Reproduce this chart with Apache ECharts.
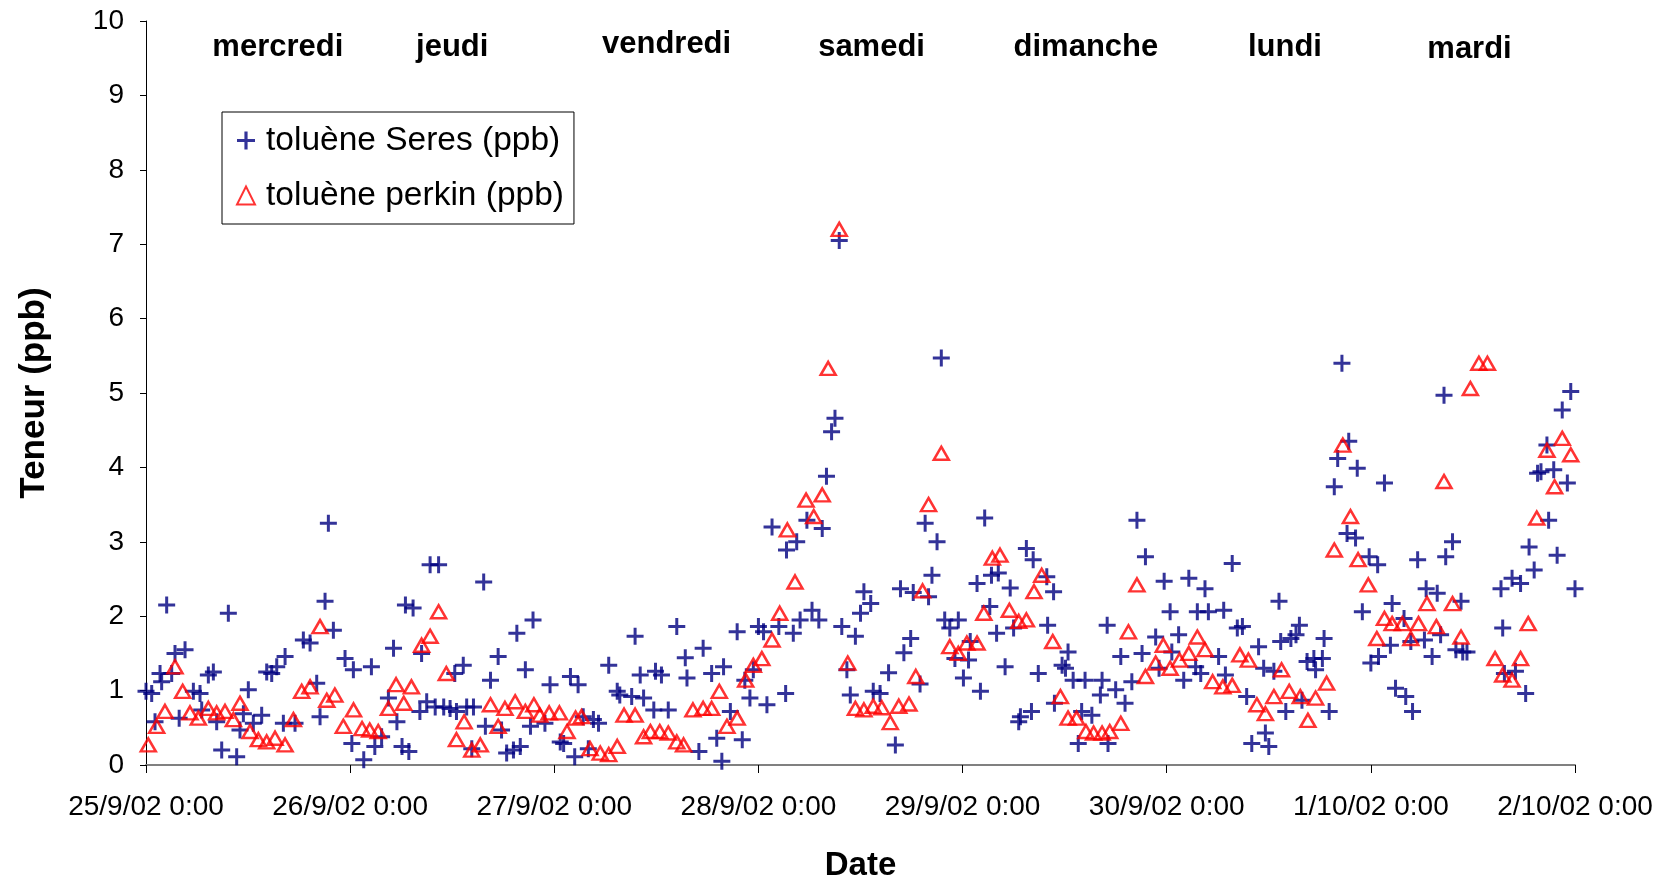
<!DOCTYPE html>
<html><head><meta charset="utf-8">
<script src="https://cdn.jsdelivr.net/npm/echarts@6/dist/echarts.min.js"></script>
<style>html,body{margin:0;padding:0;background:#fff}#c{width:1668px;height:882px}</style>
</head><body><div id="c"></div>
<script>
// x = hours since 25/9/02 0:00, y = ppb
var tickLabels = ['25/9/02 0:00','26/9/02 0:00','27/9/02 0:00','28/9/02 0:00','29/9/02 0:00','30/9/02 0:00','1/10/02 0:00','2/10/02 0:00'];
var dayNames = ['mercredi','jeudi','vendredi','samedi','dimanche','lundi','mardi'];
var seriesNames = ['toluène Seres (ppb)','toluène perkin (ppb)'];

var seres = [
[0.0,0.99],[0.67,0.96],[1.06,0.58],[1.65,1.23],[1.84,1.12],[2.43,2.15],[3.02,1.23],[3.41,1.50],[3.9,0.63],[4.59,1.55],[5.57,0.99],[6.35,0.96],[6.55,0.74],[7.33,1.21],[7.92,1.25],[8.31,0.58],[8.9,0.20],[9.68,2.04],[10.66,0.11],[11.05,0.47],[11.45,0.69],[12.03,1.01],[12.62,0.56],[13.6,0.67],[14.19,1.25],[14.78,1.23],[15.37,1.32],[16.15,0.56],[16.35,1.46],[17.52,0.56],[18.5,1.68],[19.29,1.64],[20.07,1.10],[20.46,0.65],[21.05,2.20],[21.44,3.25],
[22.03,1.81],[23.4,1.43],[24.2,0.29],[24.38,1.28],[25.6,0.07],[26.5,1.32],[26.9,0.25],[27.7,0.38],[28.5,0.90],[29.1,1.57],[29.5,0.58],[30.1,0.25],[30.5,2.15],[30.9,0.18],[31.4,2.11],[32.2,0.72],[32.4,1.50],[33.0,0.85],[33.4,2.69],[34.0,0.78],[34.4,2.69],[35.0,0.78],[35.75,0.76],[36.3,1.23],[36.5,0.72],[37.3,1.34],[37.7,0.78],[38.3,0.22],[38.5,0.78],[39.7,2.46],[39.9,0.52],[40.5,1.14],[41.4,1.46],[41.8,0.47],[42.4,0.16],
[43.2,0.20],[43.6,1.77],[44.0,0.25],[44.6,1.28],[45.2,0.52],[45.5,1.95],[46.9,0.56],[47.5,1.08],[48.7,0.31],[49.1,0.29],[49.9,1.19],[50.4,0.11],[50.8,1.08],[51.4,0.65],[52.0,0.22],[52.6,0.61],[53.2,0.56],[54.4,1.34],[55.4,0.99],[55.7,0.94],[57.1,0.92],[57.5,1.73],[58.1,1.21],[58.5,0.90],[59.7,0.74],[59.9,1.26],[60.6,1.21],[61.4,0.74],[62.4,1.86],[63.4,1.44],[63.6,1.17],
[65.0,0.18],[65.5,1.57],[66.5,1.23],[67.1,0.36],[67.7,0.05],[67.9,1.32],[68.7,0.72],[69.5,1.79],[70.1,0.34],[70.4,1.14],[71.0,0.90],[71.4,1.28],[72.0,1.86],[72.6,1.79],[73.0,0.81],[73.6,3.20],[74.4,1.86],[75.2,0.96],[75.3,2.89],[76.1,1.77],[76.5,3.00],[76.9,1.95],[77.7,3.29],[78.3,2.08],[79.1,1.95],[79.5,3.18],[80.0,3.88],[80.6,4.48],[81.0,4.66],[81.5,7.05],[81.8,1.86],[82.4,1.28],[82.8,0.94],[83.4,1.73],[84.0,2.04],[84.4,2.33],
[85.2,2.17],[85.5,0.99],[86.3,0.96],[87.3,1.24],[88.1,0.27],[88.7,2.37],[89.1,1.51],[89.9,1.70],[90.2,2.32],[91.0,1.09],
[91.6,3.25],[92.0,2.26],[92.4,2.55],[93.0,3.0],[93.5,5.47],[93.9,1.95],[94.5,1.84],[95.1,1.43],[95.5,1.95],[96.1,1.17],[96.7,1.41],[96.9,1.66],[97.7,2.44],[98.1,0.99],[98.6,3.32],[99.2,2.13],[99.4,2.55],[100.0,1.77],[100.2,2.58],[101.0,1.32],[101.6,2.38],[102.0,1.84],[102.6,0.58],[102.8,0.65],[103.5,2.91],[104.1,0.72],[104.3,2.76],[104.9,1.23],[105.9,2.53],[106.0,1.88],[106.7,2.33],[106.8,0.83],[107.7,1.34],[108.1,1.30],[108.4,1.52],[109.0,1.14],[109.6,0.29],[110.0,0.72],[110.4,1.14],[111.2,0.67],[112.2,0.94],[112.4,1.14],[113.0,1.88],
[113.1,0.29],[114.0,1.01],[114.6,1.46],[115.1,0.83],[115.9,1.12],[116.5,3.29],[117.1,1.50],[117.5,2.80],[118.7,1.72],[119.1,1.30],[119.7,2.47],[120.4,2.06],[120.6,1.52],[121.4,1.75],[122.0,1.14],[122.6,2.51],[123.4,1.32],[123.6,2.06],[124.0,1.23],[124.5,2.37],[124.9,2.06],[126.1,1.46],[126.7,2.08],[126.9,1.21],[127.7,2.71],[128.3,1.84],[128.9,1.86],[129.4,0.92],[130.0,0.29],[130.8,1.59],[131.4,1.30],[131.6,0.43],[132.0,0.25],[132.6,1.26],[133.2,2.20],[133.4,1.66],[134.0,0.72],
[134.6,1.70],[135.2,1.75],[135.6,1.88],[135.9,0.87],[136.5,1.39],[137.3,1.43],[137.5,1.28],[138.3,1.43],[138.5,1.70],[139.1,0.72],[139.7,3.74],[140.1,4.12],[140.6,5.40],[141.2,3.11],[141.4,4.35],[142.2,3.05],[142.4,3.99],[143.0,2.06],[143.8,2.80],[144.0,1.37],[144.8,2.69],[144.9,1.46],[145.6,3.79],[146.3,1.61],[146.5,2.17],[146.9,1.03],[147.9,1.97],[148.1,0.92],[148.7,1.66],[148.9,0.72],[149.5,2.76],[150.3,1.68],[150.5,2.37],[151.2,1.46],[151.8,2.31],[152.2,1.75],[152.6,4.97],[152.8,2.80],[153.6,3.00],[154.0,1.55],[154.6,2.20],[154.8,1.52],
[155.3,1.52],[159.3,2.37],[159.5,1.84],[159.7,1.23],[160.6,2.51],[161.0,1.26],[161.6,2.44],[162.2,0.96],[162.6,2.93],[163.2,2.62],[163.6,3.92],[164.0,3.94],[164.7,4.30],[164.9,3.29],[165.5,3.97],[165.9,2.82],[166.5,4.77],[167.1,3.79],[167.5,5.02],[168.0,2.37]
];

var perkin = [
[0.27,0.27],[1.25,0.52],[2.23,0.72],[3.41,1.32],[4.31,0.99],[5.17,0.70],[6.15,0.63],[7.33,0.76],[8.31,0.70],[9.29,0.72],[10.27,0.61],[11.05,0.83],[12.23,0.45],[13.21,0.34],[14.19,0.31],[15.17,0.36],[16.35,0.27],[17.33,0.61],[18.3,0.99],[19.29,1.05],[20.46,1.86],[21.25,0.87],
[22.2,0.94],[23.2,0.52],[24.4,0.74],[25.4,0.49],[26.3,0.47],[27.3,0.45],[28.5,0.76],[29.4,1.08],[30.3,0.83],[31.2,1.05],[32.4,1.61],[33.4,1.73],[34.4,2.06],[35.3,1.23],[36.5,0.34],[37.4,0.58],[38.3,0.20],[39.3,0.27],[40.5,0.81],[41.4,0.52],[42.2,0.76],
[43.4,0.85],[44.6,0.72],[45.6,0.81],[46.3,0.67],[47.4,0.70],[48.6,0.70],[49.5,0.45],[50.5,0.63],[51.2,0.65],[52.2,0.22],[53.4,0.16],[54.4,0.14],[55.4,0.25],[56.2,0.67],[57.5,0.67],[58.5,0.38],[59.3,0.45],[60.4,0.45],[61.4,0.43],[62.4,0.31],[63.2,0.27],
[64.3,0.74],[65.5,0.76],[66.5,0.76],[67.4,0.99],[68.3,0.52],[69.5,0.63],[70.5,1.14],[71.4,1.34],[72.4,1.43],[73.6,1.68],[74.5,2.04],[75.4,3.16],[76.3,2.46],[77.6,3.56],[78.5,3.34],[79.5,3.63],[80.2,5.33],[81.5,7.2],[82.5,1.37],[83.4,0.76],[84.4,0.74],
[85.5,0.79],[86.5,0.77],[87.5,0.57],[88.5,0.79],[89.7,0.82],[90.5,1.19],[91.3,2.34],[92.0,3.5],
[93.5,4.19],[94.5,1.59],[95.5,1.50],[96.5,1.64],[97.7,1.64],[98.5,2.04],[99.5,2.78],[100.4,2.82],[101.5,2.08],[102.6,1.93],[103.5,1.95],[104.4,2.33],[105.3,2.55],[106.6,1.66],[107.5,0.92],[108.4,0.63],[109.4,0.63],[110.5,0.45],[111.4,0.43],[112.4,0.43],[113.3,0.45],
[114.6,0.56],[115.5,1.79],[116.5,2.42],[117.5,1.19],[118.7,1.37],[119.6,1.61],[120.4,1.30],[121.5,1.41],[122.6,1.50],[123.6,1.72],[124.5,1.55],[125.4,1.12],[126.6,1.05],[127.7,1.07],[128.6,1.48],[129.6,1.41],[130.6,0.81],[131.6,0.69],[132.6,0.92],[133.5,1.28],[134.4,0.99],
[135.7,0.92],[136.6,0.60],[137.5,0.90],[138.8,1.10],[139.7,2.89],[140.7,4.30],[141.6,3.34],[142.5,2.76],[143.7,2.42],[144.7,1.70],[145.6,1.97],[146.5,1.90],[147.7,1.90],[148.7,1.70],[149.6,1.90],[150.6,2.17],[151.7,1.86],[152.6,3.81],[153.6,2.17],[154.6,1.72],
[155.7,5.06],[156.7,5.40],[157.7,5.40],[158.6,1.43],[159.5,1.21],[160.6,1.14],[161.6,1.43],[162.5,1.90],[163.5,3.32],[164.7,4.23],[165.6,3.74],[166.5,4.39],[167.5,4.17]
];

// anchor positions of the day annotations (in data units)
var dayAnchorX = [15.5, 36.0, 61.2, 85.3, 110.5, 133.9, 155.6];
var dayAnchorY = [9.65, 9.65, 9.68, 9.65, 9.65, 9.65, 9.62];

var FONT = 'Liberation Sans, Arial, sans-serif';
var plusPath = 'path://M7,0H10V7H17V10H10V17H7V10H0V7H7Z';

var chart = echarts.init(document.getElementById('c'), null, {renderer:'canvas'});
chart.setOption({
  animation: false,
  backgroundColor: '#ffffff',
  grid: {left: 146, right: 93, top: 21, bottom: 117, containLabel: false, outerBoundsMode: 'none'},
  legend: {
    orient: 'vertical', left: 222, top: 112,
    backgroundColor: '#fff', borderColor: '#000', borderWidth: 1,
    padding: [9, 10, 9, 14], itemGap: 16, itemWidth: 18, itemHeight: 18,
    textStyle: {fontFamily: FONT, fontSize: 33.5, color: '#000', lineHeight: 39, padding: [0, 0, 0, 6]},
    data: [{name: seriesNames[0]}, {name: seriesNames[1]}],
    selectedMode: false
  },
  xAxis: {
    type: 'value', min: 0, max: 168, interval: 24,
    name: 'Date', nameLocation: 'middle', nameGap: 84,
    nameTextStyle: {fontFamily: FONT, fontSize: 33, fontWeight: 'bold', color: '#000'},
    axisLine: {show: true, onZero: false, lineStyle: {color: '#808080', width: 2}},
    axisTick: {show: true, inside: false, length: 8, lineStyle: {color: '#000', width: 1}},
    axisLabel: {fontFamily: FONT, fontSize: 28, color: '#000', margin: 28,
      formatter: function (v) { return tickLabels[Math.round(v / 24)]; }},
    splitLine: {show: false}
  },
  yAxis: {
    type: 'value', min: 0, max: 10, interval: 1,
    name: 'Teneur (ppb)', nameLocation: 'middle', nameGap: 94, nameRotate: 90,
    nameTextStyle: {fontFamily: FONT, fontSize: 35, fontWeight: 'bold', color: '#000'},
    axisLine: {show: true, lineStyle: {color: '#000', width: 1}},
    axisTick: {show: true, length: 6, lineStyle: {color: '#000', width: 1}},
    axisLabel: {fontFamily: FONT, fontSize: 28, color: '#000', margin: 22},
    splitLine: {show: false}
  },
  series: [
    {
      name: seriesNames[0], type: 'scatter', data: seres,
      symbol: plusPath, symbolSize: 17,
      itemStyle: {color: '#000080'},
      emphasis: {disabled: true}, z: 2
    },
    {
      name: seriesNames[1], type: 'scatter', data: perkin,
      symbol: 'triangle', symbolSize: [15, 13],
      itemStyle: {color: 'rgba(255,255,255,0)', borderColor: '#ff0000', borderWidth: 2.5},
      emphasis: {disabled: true}, z: 3
    },
    {
      name: 'jours', type: 'scatter', silent: true, symbol: 'circle', symbolSize: 1,
      itemStyle: {color: 'rgba(255,255,255,0)'},
      data: dayNames.map(function (n, i) { return {name: n, value: [dayAnchorX[i], dayAnchorY[i]]}; }),
      label: {show: true, position: 'inside', formatter: '{b}',
        fontFamily: FONT, fontSize: 31, fontWeight: 'bold', color: '#000000',
        textBorderWidth: 0, textBorderColor: 'transparent', opacity: 1},
      z: 5
    }
  ]
});
</script>
</body></html>
